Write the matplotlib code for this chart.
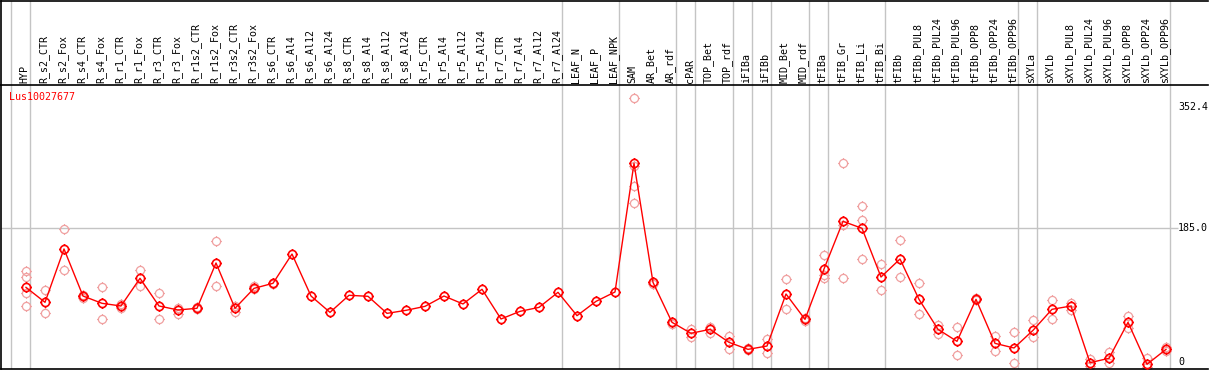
import matplotlib
matplotlib.use("Agg")
import matplotlib.pyplot as plt
import numpy as np
from matplotlib.path import Path

# sample columns, left to right
samples = [
    "HYP", "R_s2_CTR", "R_s2_Fox", "R_s4_CTR", "R_s4_Fox", "R_r1_CTR", "R_r1_Fox",
    "R_r3_CTR", "R_r3_Fox", "R_r1s2_CTR", "R_r1s2_Fox", "R_r3s2_CTR", "R_r3s2_Fox",
    "R_s6_CTR", "R_s6_Al4", "R_s6_Al12", "R_s6_Al24", "R_s8_CTR", "R_s8_Al4",
    "R_s8_Al12", "R_s8_Al24", "R_r5_CTR", "R_r5_Al4", "R_r5_Al12", "R_r5_Al24",
    "R_r7_CTR", "R_r7_Al4", "R_r7_Al12", "R_r7_Al24", "LEAF_N", "LEAF_P", "LEAF_NPK",
    "SAM", "AR_Bet", "AR_rdf", "cPAR", "TOP_Bet", "TOP_rdf", "iFIBa", "iFIBb",
    "MID_Bet", "MID_rdf", "tFIBa", "tFIB_Gr", "tFIB_Li", "tFIB_Bi", "tFIBb",
    "tFIBb_PUL8", "tFIBb_PUL24", "tFIBb_PUL96", "tFIBb_OPP8", "tFIBb_OPP24",
    "tFIBb_OPP96", "sXYLa", "sXYLb", "sXYLb_PUL8", "sXYLb_PUL24", "sXYLb_PUL96",
    "sXYLb_OPP8", "sXYLb_OPP24", "sXYLb_OPP96",
]

# mean expression per sample
means = [
    103.3, 82.6, 156.4, 91.3, 81.2, 77.5, 115.8, 77.5, 72.0, 74.3, 137.0, 74.3, 101.9,
    108.9, 149.4, 91.3, 68.7, 92.3, 90.9, 67.3, 71.5, 77.0, 91.3, 80.3, 100.6,
    59.5, 70.1, 75.6, 96.4, 64.1, 83.9, 96.9,
    274.9, 110.2, 54.9, 39.7, 45.2, 27.2, 17.5, 22.1, 94.1, 59.0,
    128.7, 194.6, 185.0, 117.6, 142.5, 86.7, 45.2, 28.6, 86.7, 25.8, 19.4,
    43.8, 72.9, 77.5, -0.9, 5.1, 54.9, -3.2, 17.5,
]

# individual replicates per sample
reps = [
    [125.5, 117.6, 95.5, 77.0], [99.6, 67.3], [184.0, 126.8], [93.0, 89.0],
    [103.3, 59.0], [80.3, 74.3], [126.8, 104.7], [95.0, 59.0], [75.2, 66.9],
    [75.6, 72.9], [167.4, 104.7], [77.0, 69.6], [105.6, 101.0], [110.0, 107.8],
    [], [], [], [], [], [], [], [], [], [], [], [], [], [], [], [], [], [],
    [364.9, 271.6, 243.5, 219.6], [111.2, 107.5], [55.8, 52.1], [45.7, 35.1],
    [48.9, 40.6], [36.0, 17.5], [18.9, 16.1], [31.4, 12.0], [114.4, 73.3],
    [61.3, 56.7], [147.6, 120.4, 116.7], [274.9, 189.6, 115.8],
    [215.4, 196.0, 142.1], [135.1, 99.6], [168.8, 117.2], [108.9, 66.0],
    [51.2, 38.3], [48.0, 9.2], [88.0, 85.5], [36.0, 15.7], [41.1, -2.0],
    [57.7, 34.1], [85.8, 59.0], [82.1, 71.5], [4.2, -5.5], [14.3, -1.8],
    [63.7, 47.5], [5.1, -6.5], [20.3, 15.7],
]

# last column index of each sample group (-1 = left edge)
group_ends = [-1, 0, 28, 31, 34, 35, 37, 38, 39, 41, 42, 45, 52, 53, 60]
ytick_vals = [0, 185.0, 352.4]
ytick_text = ["0", "185.0", "352.4"]
gene = "Lus10027677"

W, H = 1209, 370
MONO = "DejaVu Sans Mono"
GRID = "#c4c4c4"
PALE = "#f0a0a0"


def ring_marker():
    # polygon circle with four short ticks on the outside
    t = np.linspace(0, 2 * np.pi, 33)[:-1]
    verts = list(zip(np.cos(t), np.sin(t))) + [(1, 0)]
    codes = [Path.MOVETO] + [Path.LINETO] * 31 + [Path.CLOSEPOLY]
    for dx, dy in [(0, 1), (1, 0), (0, -1), (-1, 0)]:
        verts += [(dx, dy), (dx * 1.3, dy * 1.3)]
        codes += [Path.MOVETO, Path.LINETO]
    return Path(verts, codes)


marker = ring_marker()
MS = 7.6

fig = plt.figure(figsize=(W / 100, H / 100), dpi=100)
ax = fig.add_axes([1 / W, 1 / H, 1207 / W, 284 / H])
axh = fig.add_axes([1 / W, 285 / H, 1207 / W, 84.5 / H])

xlo, xhi = (1 - 26) / 19, (1208 - 26) / 19
for a in (ax, axh):
    a.set_xlim(xlo, xhi)
    a.set_xticks([])
    a.set_yticks([])
    a.spines["right"].set_visible(False)
    for s in ("left", "top", "bottom"):
        a.spines[s].set_linewidth(1.2)
    a.spines["top"].set_visible(a is axh)
    for g in group_ends:
        a.axvline(g + 4 / 19, color=GRID, lw=1.0, zorder=0)

ax.set_ylim((362 - 369) / 0.7227, (362 - 85) / 0.7227)
axh.set_ylim(0, 1)

# header labels
for i, name in enumerate(samples):
    axh.text(i - 1.5 / 19, 0.025, name, rotation=90, ha="center", va="bottom",
             family=MONO, fontsize=7.2, color="black")

# grid line and right-hand value labels
xlab = (1178 - 26) / 19
ax.hlines(185.0, xlo, xlab, color=GRID, lw=1.0, zorder=0)
for v, t in zip(ytick_vals, ytick_text):
    ax.text(xlab, v, t, ha="left", va="center", family=MONO, fontsize=7.2)

# replicates
for i, rr in enumerate(reps):
    if rr:
        ax.plot([i] * len(rr), rr, ls="none", marker=marker, ms=MS, mfc="none",
                mec=PALE, mew=0.9, zorder=2)

# mean line
x = list(range(len(means)))
ax.plot(x, means, color="red", lw=1.0, marker=marker, ms=MS, mfc="none",
        mec="red", mew=1.2, zorder=3)

ax.text((9 - 26) / 19, (362 - 97) / 0.7227, gene, ha="left", va="center",
        family=MONO, fontsize=7.2, color="red")

fig.savefig("out.png", dpi=100)
